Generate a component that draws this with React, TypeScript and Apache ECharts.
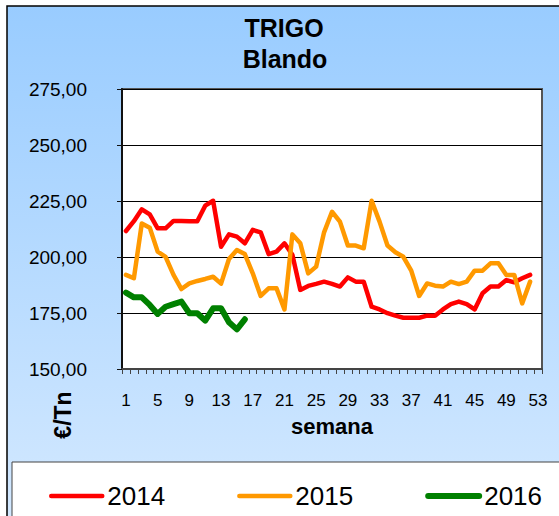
import React, { useEffect, useRef } from "react";
import * as echarts from "echarts";

const weeks = [
  "1", "2", "3", "4", "5", "6", "7", "8", "9", "10",
  "11", "12", "13", "14", "15", "16", "17", "18", "19", "20",
  "21", "22", "23", "24", "25", "26", "27", "28", "29", "30",
  "31", "32", "33", "34", "35", "36", "37", "38", "39", "40",
  "41", "42", "43", "44", "45", "46", "47", "48", "49", "50",
  "51", "52", "53",
];

const y2014 = [
  211.6, 216, 221.3, 219, 212.8, 212.8, 216.1, 216.1, 216, 216,
  222.9, 225.1, 204.6, 210.1, 209.1, 206.1, 212.1, 211, 201.3, 202.4,
  206.1, 201, 185.3, 187.1, 188, 189, 188, 186.8, 190.9, 189,
  189, 177.8, 176.6, 174.9, 173.8, 172.9, 172.9, 172.9, 173.8, 173.8,
  176.6, 179, 180.1, 179, 176.6, 183.8, 186.8, 186.8, 189.7, 188.7,
  190.5, 192,
];

const y2015 = [
  192, 190.5, 215, 213.1, 202.4, 200.1, 192, 185.7, 188.2, 189.3,
  190.2, 191.2, 188.1, 199.1, 203.1, 201.3, 192.7, 182.6, 186, 186,
  176.6, 210.1, 206.1, 192.7, 195.7, 211, 220.2, 215.8, 205.1, 205.1,
  203.9, 225.1, 215.8, 205.1, 202.1, 200.1, 193.9, 182.6, 188.2, 187.2,
  186.8, 189, 187.9, 189, 193.9, 193.9, 197.2, 197.2, 192, 192,
  179.3, 189,
];

const y2016 = [
  184.1, 182, 182, 178.6, 174.6, 177.8, 179, 180.1, 174.9, 174.9,
  171.6, 177.1, 177.1, 170.9, 167.7, 172.2,
];

const seriesNames = ["2014", "2015", "2016"];
const seriesColors = ["#FF0000", "#FF9900", "#008000"];
const seriesWidths = [4.5, 4.5, 6];
const seriesData = [y2014, y2015, y2016];

const FONT = "'Liberation Sans', Arial, sans-serif";

export default function App() {
  const ref = useRef<HTMLDivElement>(null);

  useEffect(() => {
    if (!ref.current) return;
    const chart = echarts.init(ref.current, null, { renderer: "svg" });
    chart.setOption({
      animation: false,
      textStyle: { fontFamily: FONT },
      grid: {
        left: 122,
        top: 89,
        width: 420,
        height: 280,
        show: true,
        backgroundColor: "#FFFFFF",
        borderColor: "#555555",
        borderWidth: 2,
      },
      legend: {
        left: 44,
        top: 478,
        itemWidth: 51,
        itemHeight: 14,
        itemGap: 72,
        lineStyle: { width: "inherit", cap: "round" },
        itemStyle: { opacity: 0 },
        textStyle: { fontSize: 26, color: "#000", fontFamily: FONT },
        data: seriesNames,
      },
      xAxis: {
        type: "category",
        data: weeks,
        boundaryGap: true,
        name: "semana",
        nameLocation: "middle",
        nameGap: 46,
        nameTextStyle: { fontSize: 22, fontWeight: "bold", color: "#000", fontFamily: FONT },
        axisLine: { show: true, lineStyle: { color: "#444", width: 2 } },
        axisTick: { show: true, interval: 0, length: 5, lineStyle: { color: "#444", width: 1 } },
        axisLabel: { interval: 3, fontSize: 17, color: "#000", margin: 23, fontFamily: FONT },
        splitLine: { show: false },
      },
      yAxis: {
        type: "value",
        min: 150,
        max: 275,
        interval: 25,
        axisLine: { show: true, lineStyle: { color: "#111", width: 2 } },
        axisTick: { show: true, length: 5, lineStyle: { color: "#111", width: 1 } },
        axisLabel: {
          fontSize: 19,
          color: "#000",
          margin: 35,
          fontFamily: FONT,
          formatter: (v: number) => v.toFixed(2).replace(".", ","),
        },
        splitLine: { show: true, lineStyle: { color: "#000", width: 1 } },
      },
      series: seriesNames.map((name, i) => ({
        name,
        type: "line",
        data: seriesData[i],
        symbol: "none",
        showSymbol: false,
        smooth: false,
        lineStyle: { color: seriesColors[i], width: seriesWidths[i], cap: "round", join: "round" },
        itemStyle: { color: seriesColors[i] },
        z: 3 + i,
      })),
      graphic: [
        {
          type: "rect",
          z: -10,
          silent: true,
          shape: { x: 7, y: 6, width: 620, height: 520 },
          style: {
            fill: new echarts.graphic.LinearGradient(0, 0, 0, 1, [
              { offset: 0, color: "#99CCFF" },
              { offset: 1, color: "#D4E9FF" },
            ]),
            stroke: "#000",
            lineWidth: 1.5,
          },
        },
        {
          type: "rect",
          z: -5,
          silent: true,
          shape: { x: 12, y: 462, width: 620, height: 100 },
          style: { fill: "#FFFFFF", stroke: "#444", lineWidth: 1 },
        },
        {
          type: "text",
          x: 284,
          y: 28,
          style: {
            text: "TRIGO",
            fontSize: 25,
            fontWeight: "bold",
            fontFamily: FONT,
            fill: "#000",
            align: "center",
            verticalAlign: "middle",
          },
        },
        {
          type: "text",
          x: 285,
          y: 59,
          style: {
            text: "Blando",
            fontSize: 25,
            fontWeight: "bold",
            fontFamily: FONT,
            fill: "#000",
            align: "center",
            verticalAlign: "middle",
          },
        },
        {
          type: "text",
          x: 63,
          y: 415,
          rotation: Math.PI / 2,
          style: {
            text: "€/Tn",
            fontSize: 23,
            fontWeight: "bold",
            fontFamily: FONT,
            fill: "#000",
            align: "center",
            verticalAlign: "middle",
          },
        },
      ],
    });
    return () => chart.dispose();
  }, []);

  return (
    <div
      ref={ref}
      style={{ position: "absolute", left: 0, top: 0, width: 559, height: 516 }}
    />
  );
}
